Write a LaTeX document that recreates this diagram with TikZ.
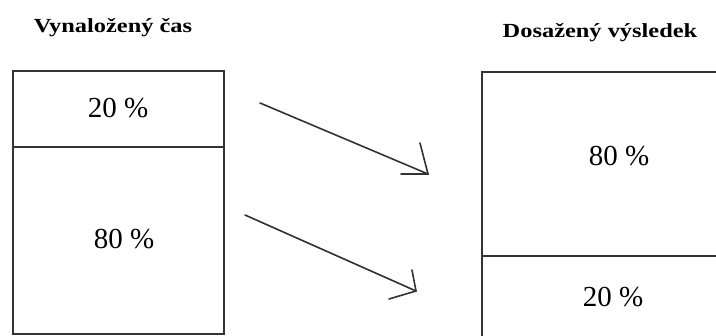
\documentclass[tikz,border=0pt]{standalone}
\usepackage{fontspec}
\setmainfont{Liberation Serif}
\newfontfamily\titlefont[FakeStretch=1.22]{Liberation Serif}
\begin{document}
\begin{tikzpicture}[x=1pt,y=-1pt,
  cell/.style={draw=black!80,line width=2pt,inner sep=0pt,anchor=north west},
  pct/.style={font=\fontsize{29}{30}\selectfont},
  heading/.style={font=\titlefont\bfseries\fontsize{20}{21}\selectfont},
  pen/.style={draw=black!80,line width=1.6pt,line cap=round}]
\useasboundingbox (0,0) rectangle (716,336);
\clip (0,0) rectangle (716,336);
% headings
\node[heading] (t1) at (113,28) {Vynaložený čas};
\node[heading] (t2) at (600,33) {Dosažený výsledek};
% time spent
\node[cell,minimum width=211pt,minimum height=76pt] (l1) at (12,70) {};
\node[cell,minimum width=211pt,minimum height=187pt] (l2) at (12,146) {};
\node[pct] (l1t) at (118,108) {20 \%};
\node[pct] (l2t) at (124,239) {80 \%};
% results achieved
\node[cell,minimum width=260pt,minimum height=184pt] (r1) at (481,71) {};
\node[cell,minimum width=260pt,minimum height=100pt] (r2) at (481,255) {};
\node[pct] (r1t) at (619,156) {80 \%};
\node[pct] (r2t) at (613,297) {20 \%};
% hand-drawn arrows
\coordinate (a1s) at (260,103);
\coordinate (a1e) at (428,174);
\coordinate (a1u) at (420,143);
\coordinate (a1l) at (401,174);
\coordinate (a2s) at (245,215);
\coordinate (a2e) at (416,291);
\coordinate (a2u) at (412,270);
\coordinate (a2l) at (389,299);
\draw[pen] (a1s) -- (a1e);
\draw[pen] (a1u) -- (a1e) -- (a1l);
\draw[pen] (a2s) -- (a2e);
\draw[pen] (a2u) -- (a2e) -- (a2l);
\end{tikzpicture}
\end{document}
